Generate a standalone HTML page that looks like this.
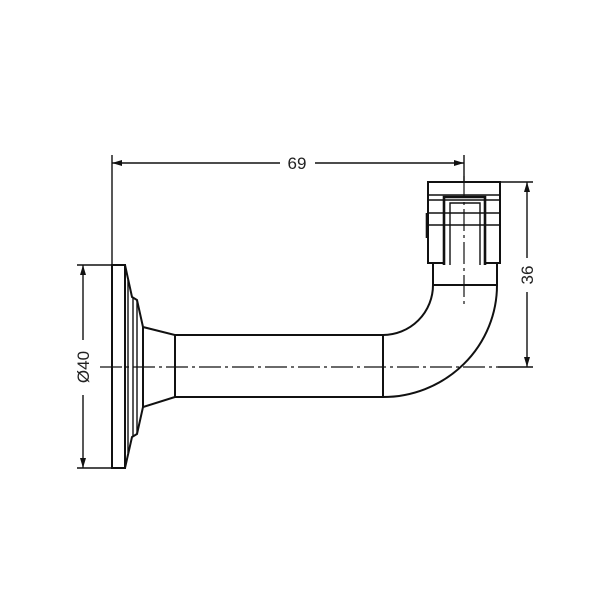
<!DOCTYPE html>
<html><head><style>html,body{margin:0;background:#fff}svg{display:block}</style></head><body>
<svg width="600" height="600" viewBox="0 0 600 600" xmlns="http://www.w3.org/2000/svg">
<rect width="600" height="600" fill="#fff"/>
<defs>
<marker id="a" viewBox="0 0 10 6" refX="10" refY="3" markerWidth="10" markerHeight="6" orient="auto" markerUnits="userSpaceOnUse"><path d="M0,0 L10,3 L0,6 z" fill="#111"/></marker>
</defs>
<g stroke="#111" fill="none" stroke-width="2">
<line x1="112" y1="155" x2="112" y2="265" stroke-width="1.4"/>
<line x1="464" y1="155" x2="464" y2="182" stroke-width="1.4"/>
<line x1="77" y1="265" x2="112" y2="265" stroke-width="1.4"/>
<line x1="77" y1="468" x2="112" y2="468" stroke-width="1.4"/>
<line x1="500" y1="182" x2="533" y2="182" stroke-width="1.4"/>
<line x1="498" y1="367" x2="533" y2="367" stroke-width="1.4"/>
<line x1="280" y1="163" x2="112" y2="163" stroke-width="1.4" marker-end="url(#a)"/>
<line x1="315" y1="163" x2="464" y2="163" stroke-width="1.4" marker-end="url(#a)"/>
<line x1="83" y1="340" x2="83" y2="265" stroke-width="1.4" marker-end="url(#a)"/>
<line x1="83" y1="395" x2="83" y2="468" stroke-width="1.4" marker-end="url(#a)"/>
<line x1="527" y1="258" x2="527" y2="182" stroke-width="1.4" marker-end="url(#a)"/>
<line x1="527" y1="292" x2="527" y2="367" stroke-width="1.4" marker-end="url(#a)"/>
<line x1="100" y1="367" x2="498" y2="367" stroke-width="1.2" stroke-dasharray="22,4,3,4"/>
<line x1="464" y1="176" x2="464" y2="305" stroke-width="1.2" stroke-dasharray="22,4,3,4"/>
<rect x="112" y="265" width="13" height="203"/>
<path d="M125,265 L132,297 L137,300 L143,327 L175,335 L175,397 L143,407 L137,434 L132,437 L125,468"/>
<line x1="128" y1="280" x2="128" y2="453" stroke-width="1.4"/>
<line x1="133" y1="298" x2="133" y2="436" stroke-width="1.4"/>
<line x1="137" y1="300" x2="137" y2="434" stroke-width="1.4"/>
<line x1="143" y1="327" x2="143" y2="407"/>
<line x1="175" y1="335" x2="383" y2="335"/>
<line x1="175" y1="397" x2="383" y2="397"/>
<line x1="383" y1="335" x2="383" y2="397"/>
<path d="M383,335 A50,50 0 0 0 433,285 L433,263"/>
<path d="M383,397 A114,112 0 0 0 497,285 L497,263"/>
<line x1="433" y1="285" x2="497" y2="285"/>
<path d="M444,263 L428,263 L428,182 L500,182 L500,263 L485,263"/>
<line x1="428" y1="195" x2="500" y2="195" stroke-width="1.4"/>
<line x1="428" y1="200" x2="500" y2="200" stroke-width="1.4"/>
<line x1="428" y1="213" x2="500" y2="213" stroke-width="1.4"/>
<line x1="428" y1="225" x2="500" y2="225" stroke-width="1.4"/>
<path d="M444,265 L444,197 L485,197 L485,265" stroke-width="2.6"/>
<path d="M450,265 L450,203 L480,203 L480,265" stroke-width="1.4"/>
<line x1="427" y1="213" x2="427" y2="238" stroke-width="2.6"/>
</g>
<g font-family="Liberation Sans, sans-serif" font-size="17" fill="#222" text-anchor="middle">
<text x="297" y="169">69</text>
<text transform="translate(89,367) rotate(-90)">Ø40</text>
<text transform="translate(533,275) rotate(-90)">36</text>
</g>
</svg>
</body></html>
